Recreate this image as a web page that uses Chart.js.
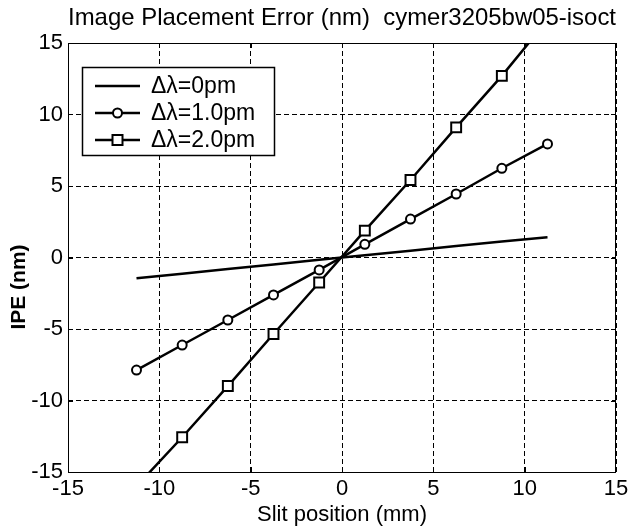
<!DOCTYPE html>
<html>
<head>
<meta charset="utf-8">
<script src="https://cdn.jsdelivr.net/npm/chart.js@4/dist/chart.umd.min.js"></script>
<style>
  html, body { margin: 0; padding: 0; background: #fff; }
  #wrap { width: 630px; height: 529px; position: relative; }
</style>
</head>
<body>
<div id="wrap"><canvas id="chart"></canvas></div>
<script>
// slit positions (mm) where the curves were sampled
const slitPos = [-11.25, -8.75, -6.25, -3.75, -1.25, 1.25, 3.75, 6.25, 8.75, 11.25];

// IPE (nm)
const ipe0pm = [-1.45, -1.13, -0.81, -0.49, -0.16, 0.16, 0.48, 0.80, 1.12, 1.41];
const ipe1pm = [-7.87, -6.12, -4.37, -2.62, -0.87, 0.92, 2.69, 4.44, 6.24, 7.94];
const ipe2pm = [-16.0, -12.57, -8.99, -5.35, -1.75, 1.88, 5.42, 9.1, 12.7, 16.6];

const seriesNames = ["\u0394\u03bb=0pm", "\u0394\u03bb=1.0pm", "\u0394\u03bb=2.0pm"];
const axisTicks = [-15, -10, -5, 0, 5, 10, 15];

const FONT = "'Liberation Sans', Arial, Helvetica, sans-serif";

function toPoints(ys) {
  return slitPos.map((x, i) => ({ x: x, y: ys[i] }));
}

// box around the plot, inward ticks, y title and the legend inside the axes
const framePlugin = {
  id: "frame",
  afterDatasetsDraw(chart) {
    const { ctx, chartArea: a, scales } = chart;
    ctx.save();
    ctx.strokeStyle = "#000";
    ctx.lineWidth = 1;
    ctx.setLineDash([]);
    ctx.strokeRect(a.left + 0.5, a.top + 0.5, a.right - a.left - 1, a.bottom - a.top);

    // inward ticks on all four sides
    ctx.beginPath();
    axisTicks.forEach(v => {
      const px = Math.round(scales.x.getPixelForValue(v)) + 0.5;
      ctx.moveTo(px, a.bottom); ctx.lineTo(px, a.bottom - 5);
      ctx.moveTo(px, a.top); ctx.lineTo(px, a.top + 5);
      const py = Math.round(scales.y.getPixelForValue(v)) + 0.5;
      ctx.moveTo(a.left, py); ctx.lineTo(a.left + 5, py);
      ctx.moveTo(a.right, py); ctx.lineTo(a.right - 5, py);
    });
    ctx.stroke();

    // y axis title
    ctx.fillStyle = "#000";
    ctx.font = "bold 21px " + FONT;
    ctx.textAlign = "center";
    ctx.textBaseline = "middle";
    ctx.translate(19, 287);
    ctx.rotate(-Math.PI / 2);
    ctx.fillText("IPE (nm)", 0, 0);
    ctx.restore();

    // legend
    ctx.save();
    const lx = 82, ly = 67, lw = 192, lh = 88;
    ctx.fillStyle = "#fff";
    ctx.fillRect(lx, ly, lw, lh);
    ctx.strokeStyle = "#000";
    ctx.lineWidth = 1.5;
    ctx.strokeRect(lx + 0.5, ly + 0.5, lw, lh);
    const rows = [86, 113, 140];
    chart.data.datasets.forEach((ds, i) => {
      const y = rows[i];
      ctx.strokeStyle = "#000";
      ctx.lineWidth = 2.5;
      ctx.beginPath();
      ctx.moveTo(95, y); ctx.lineTo(140, y);
      ctx.stroke();
      if (ds.pointStyle === "circle") {
        ctx.lineWidth = 2;
        ctx.fillStyle = "#fff";
        ctx.beginPath();
        ctx.arc(117.5, y, 4.5, 0, Math.PI * 2);
        ctx.fill(); ctx.stroke();
      } else if (ds.pointStyle === "rect") {
        ctx.lineWidth = 2;
        ctx.fillStyle = "#fff";
        ctx.fillRect(112.5, y - 5, 10, 10);
        ctx.strokeRect(112.5, y - 5, 10, 10);
      }
      ctx.fillStyle = "#000";
      ctx.font = "23px " + FONT;
      ctx.textAlign = "left";
      ctx.textBaseline = "middle";
      ctx.fillText(ds.label, 151, y + 1);
    });
    ctx.restore();
  }
};

const ctx = document.getElementById("chart").getContext("2d");
new Chart(ctx, {
  type: "line",
  data: {
    datasets: [
      {
        label: seriesNames[0],
        data: toPoints(ipe0pm),
        borderColor: "#000",
        borderWidth: 2.5,
        pointRadius: 0,
        pointStyle: false,
        tension: 0,
      },
      {
        label: seriesNames[1],
        data: toPoints(ipe1pm),
        borderColor: "#000",
        backgroundColor: "#fff",
        borderWidth: 2.5,
        pointStyle: "circle",
        pointRadius: 4.5,
        pointBorderWidth: 2,
        tension: 0,
      },
      {
        label: seriesNames[2],
        data: toPoints(ipe2pm),
        borderColor: "#000",
        backgroundColor: "#fff",
        borderWidth: 2.5,
        pointStyle: "rect",
        pointRadius: 7,
        pointBorderWidth: 2,
        tension: 0,
      },
    ],
  },
  options: {
    responsive: true,
    maintainAspectRatio: false,
    animation: false,
    layout: { padding: { top: 0, right: 14, bottom: 0, left: 0 } },
    plugins: {
      legend: { display: false },
      tooltip: { enabled: false },
      title: {
        display: true,
        fullSize: false,
        text: "Image Placement Error (nm)  cymer3205bw05-isoct",
        color: "#000",
        font: { family: FONT, size: 24, weight: "normal", lineHeight: 1.2 },
        padding: { top: 4, bottom: 10.2 },
      },
    },
    scales: {
      x: {
        type: "linear",
        min: -15,
        max: 15,
        afterBuildTicks: s => { s.ticks = axisTicks.map(v => ({ value: v })); },
        afterFit: s => { s.height = 57; s.paddingLeft = 0; s.paddingRight = 0; },
        grid: { color: "#000", lineWidth: 1, drawTicks: false },
        border: { display: false, dash: [5, 3] },
        ticks: {
          color: "#000",
          padding: 4,
          maxRotation: 0,
          font: { family: FONT, size: 22 },
        },
        title: {
          display: true,
          text: "Slit position (mm)",
          color: "#000",
          font: { family: FONT, size: 22 },
          padding: { top: 0, bottom: 1 },
        },
      },
      y: {
        type: "linear",
        min: -15,
        max: 15,
        afterBuildTicks: s => { s.ticks = axisTicks.map(v => ({ value: v })); },
        afterFit: s => { s.width = 68; s.paddingTop = 0; s.paddingBottom = 0; },
        grid: { color: "#000", lineWidth: 1, drawTicks: false },
        border: { display: false, dash: [5, 3] },
        ticks: {
          color: "#000",
          padding: 5,
          font: { family: FONT, size: 22 },
        },
      },
    },
  },
  plugins: [framePlugin],
});
</script>
</body>
</html>
